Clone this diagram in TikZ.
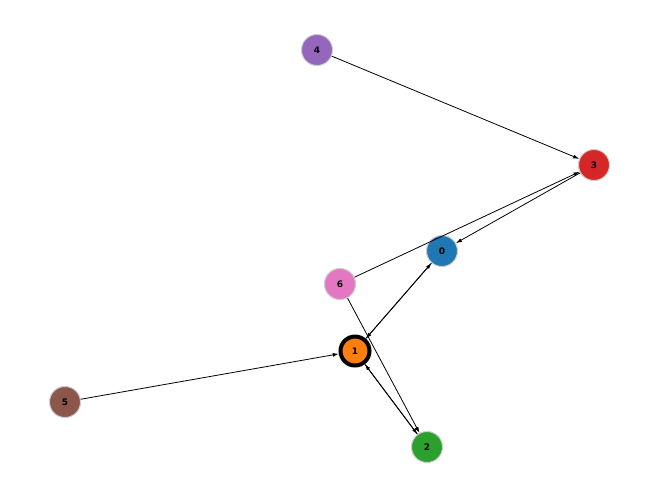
\documentclass[tikz,border=0pt]{standalone}
\usepackage{fontspec}
\setmainfont{DejaVu Sans}
\usetikzlibrary{arrows.meta}
\definecolor{c0}{HTML}{1F77B4}\definecolor{c1}{HTML}{FF7F0E}\definecolor{c2}{HTML}{2CA02C}
\definecolor{c3}{HTML}{D62728}\definecolor{c4}{HTML}{9467BD}\definecolor{c5}{HTML}{8C564B}
\definecolor{c6}{HTML}{E377C2}
\begin{document}
\begin{tikzpicture}[x=1pt,y=-1pt,
  vert/.style={circle,minimum size=31pt,inner sep=0pt,draw=gray!40,line width=1pt,font=\bfseries\fontsize{9}{9}\selectfont},
  edge/.style={-{Latex[length=6pt,width=4pt]},line width=0.8pt}]
\useasboundingbox[fill=white] (0,0) rectangle (660,499);
\node[vert,fill=c0] (n0) at (442,251) {0};
\node[vert,fill=c1,draw=black,line width=4pt,minimum size=29pt] (n1) at (355,351) {1};
\node[vert,fill=c2] (n2) at (427,447) {2};
\node[vert,fill=c3] (n3) at (594,165) {3};
\node[vert,fill=c4] (n4) at (317,50) {4};
\node[vert,fill=c5] (n5) at (65,402) {5};
\node[vert,fill=c6] (n6) at (340,284) {6};
\draw[edge] (n4) -- (n3);
\draw[edge] (n3) -- (n0);
\draw[edge] (n6) -- (n3);
\draw[edge] (n0) -- (n1);
\draw[edge] (n1) -- (n0);
\draw[edge] (n1) -- (n2);
\draw[edge] (n2) -- (n1);
\draw[edge] (n6) -- (n2);
\draw[edge] (n5) -- (n1);
\end{tikzpicture}
\end{document}
